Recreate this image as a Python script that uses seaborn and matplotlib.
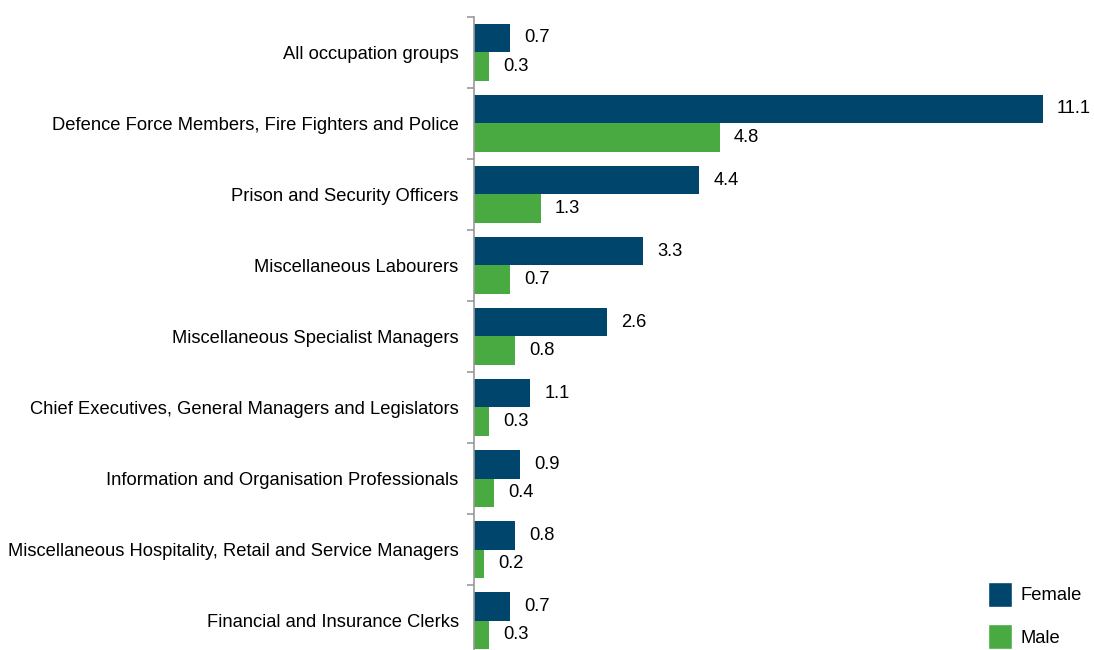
import matplotlib
matplotlib.use('Agg')
import matplotlib.pyplot as plt
import seaborn as sns
import pandas as pd
import numpy as np
from matplotlib.patches import Patch

# Data
occupations = [
    'All occupation groups',
    'Defence Force Members, Fire Fighters and Police',
    'Prison and Security Officers',
    'Miscellaneous Labourers',
    'Miscellaneous Specialist Managers',
    'Chief Executives, General Managers and Legislators',
    'Information and Organisation Professionals',
    'Miscellaneous Hospitality, Retail and Service Managers',
    'Financial and Insurance Clerks',
]
female = [0.7, 11.1, 4.4, 3.3, 2.6, 1.1, 0.9, 0.8, 0.7]
male = [0.3, 4.8, 1.3, 0.7, 0.8, 0.3, 0.4, 0.2, 0.3]
series = ['Female', 'Male']
colors = ['#00456B', '#4AAA42']

df = pd.DataFrame({
    'occupation': occupations * 2,
    'value': female + male,
    'sex': ['Female'] * len(female) + ['Male'] * len(male),
})

sns.set_style('white')
plt.rcParams['font.family'] = ['Liberation Sans', 'DejaVu Sans']
plt.rcParams['text.color'] = 'black'

fs = 13.2

fig = plt.figure(figsize=(10.94, 6.5), dpi=100)
ax = fig.add_axes([474 / 1094, -0.0095, 1 - 474 / 1094, 0.984])

sns.barplot(data=df, y='occupation', x='value', hue='sex', orient='h',
            palette=colors, hue_order=series, order=occupations,
            width=0.8, saturation=1, linewidth=0, ax=ax, legend=False)

for cont in ax.containers:
    ax.bar_label(cont, fmt='%.1f', padding=10, fontsize=fs, color='black')

ax.set_xlim(0, 12.1)
ax.set_ylim(len(occupations) - 0.5, -0.5)
ax.set_xlabel('')
ax.set_ylabel('')
ax.set_xticks([])

ax.set_yticks(np.arange(len(occupations)))
ax.set_yticklabels(occupations, fontsize=fs, color='black')
ax.set_yticks(np.arange(len(occupations) + 1) - 0.5, minor=True)
ax.tick_params(axis='y', which='major', left=True, length=0, pad=11)
ax.tick_params(axis='y', which='minor', left=True, length=5, width=1.2,
               color='#999999', direction='out')

for side in ['top', 'right', 'bottom']:
    ax.spines[side].set_visible(False)
ax.spines['left'].set_color('#999999')
ax.spines['left'].set_linewidth(1.2)

handles = [Patch(facecolor=c, label=s) for s, c in zip(series, colors)]
fig.legend(handles=handles, loc='lower left', bbox_to_anchor=(988 / 1094, 1 / 650),
           frameon=False, fontsize=fs, handlelength=1.3, handleheight=1.7,
           labelspacing=0.95, handletextpad=0.45, borderpad=0, borderaxespad=0)

fig.savefig('out.png', dpi=100)
